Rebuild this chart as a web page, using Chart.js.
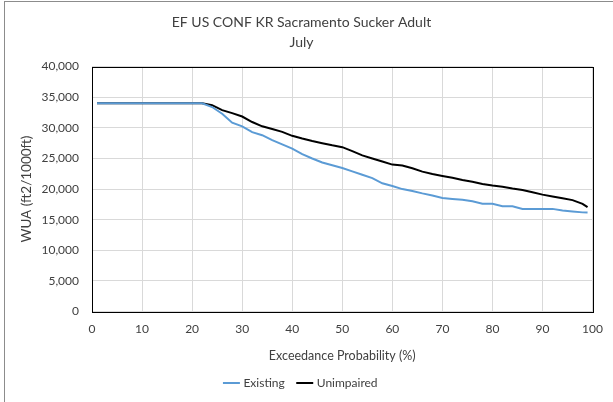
<!DOCTYPE html>
<html>
<head>
<meta charset="utf-8">
<script src="https://cdn.jsdelivr.net/npm/chart.js@4.4.0/dist/chart.umd.min.js"></script>
<style>
  body { margin: 0; background: #fff; }
  #wrap { position: relative; width: 613px; height: 402px; }
</style>
</head>
<body>
<div id="wrap"><canvas id="wuaChart" width="613" height="402"></canvas></div>
<script>
// exceedance probability (%)
var exceedance = [1, 4, 8, 12, 16, 20, 22, 24, 26, 28, 30, 32, 34, 36, 38, 40, 42, 44, 46, 48, 50,
    52, 54, 56, 58, 60, 62, 64, 66, 68, 70, 72, 74, 76, 78, 80, 82, 84, 86, 88, 90, 92, 94, 96, 98, 99];
var existing = [34000, 34000, 34000, 34000, 34000, 34000, 34000, 33400, 32300, 30850, 30250, 29300,
    28800, 28000, 27300, 26600, 25700, 25000, 24350, 23900, 23450, 22900, 22350, 21800, 20950, 20500,
    20000, 19700, 19300, 18950, 18550, 18400, 18250, 18000, 17600, 17600, 17200, 17200, 16770, 16770,
    16770, 16770, 16500, 16350, 16200, 16170];
var unimpaired = [34000, 34000, 34000, 34000, 34000, 34000, 34000, 33700, 32900, 32400, 31850, 30950,
    30250, 29800, 29350, 28700, 28250, 27850, 27500, 27150, 26850, 26200, 25500, 25000, 24500, 24000,
    23850, 23400, 22850, 22450, 22150, 21850, 21500, 21200, 20850, 20570, 20400, 20100, 19850, 19500,
    19100, 18800, 18500, 18200, 17600, 17050];
var xTicks = [0, 10, 20, 30, 40, 50, 60, 70, 80, 90, 100];
var yTicks = [0, 5000, 10000, 15000, 20000, 25000, 30000, 35000, 40000];

function toPoints(xs, ys) {
    return xs.map(function (x, i) { return { x: x, y: ys[i] }; });
}

var fontFam = "Lato, 'Open Sans', sans-serif";
Chart.defaults.font.family = fontFam;
Chart.defaults.color = '#404040';

// outer frame + plot border
var framePlugin = {
    id: 'frame',
    beforeDraw: function (chart) {
        var ctx = chart.ctx;
        ctx.save();
        ctx.fillStyle = '#fff';
        ctx.fillRect(0, 0, chart.width, chart.height);
        ctx.strokeStyle = '#8c8c8c';
        ctx.lineWidth = 1;
        ctx.strokeRect(4.5, 1.5, 700, 500);
        ctx.restore();
    },
    beforeDatasetsDraw: function (chart) {
        var a = chart.chartArea, ctx = chart.ctx;
        ctx.save();
        ctx.strokeStyle = '#000';
        ctx.lineWidth = 1;
        ctx.strokeRect(Math.round(a.left) + 0.5, Math.round(a.top) + 0.5,
            Math.round(a.right - a.left), Math.round(a.bottom - a.top));
        ctx.restore();
    }
};

new Chart(document.getElementById('wuaChart'), {
    type: 'line',
    data: {
        datasets: [
            {
                label: 'Existing',
                data: toPoints(exceedance, existing),
                borderColor: '#5b9bd5',
                backgroundColor: '#5b9bd5',
                borderWidth: 2,
                pointRadius: 0,
                tension: 0
            },
            {
                label: 'Unimpaired',
                data: toPoints(exceedance, unimpaired),
                borderColor: '#000000',
                backgroundColor: '#000000',
                borderWidth: 2,
                pointRadius: 0,
                tension: 0
            }
        ]
    },
    options: {
        responsive: false,
        animation: false,
        layout: { padding: { left: 6, right: 16, top: 12, bottom: 3 } },
        plugins: {
            title: {
                display: true,
                text: ['EF US CONF KR Sacramento Sucker Adult', 'July'],
                color: '#404040',
                font: { size: 14, weight: 'normal', family: fontFam, lineHeight: 1.45 },
                padding: { top: 0, bottom: 14 }
            },
            legend: {
                position: 'bottom',
                labels: {
                    usePointStyle: true,
                    pointStyle: 'line',
                    boxWidth: 24,
                    color: '#404040',
                    font: { size: 12, family: fontFam },
                    padding: 14
                }
            },
            tooltip: { enabled: false }
        },
        scales: {
            x: {
                type: 'linear',
                min: 0,
                max: 100,
                afterBuildTicks: function (axis) {
                    axis.ticks = xTicks.map(function (v) { return { value: v }; });
                },
                grid: { color: '#d9d9d9', drawTicks: false },
                border: { display: false },
                ticks: { color: '#404040', font: { size: 12 }, padding: 10, maxRotation: 0 },
                title: {
                    display: true,
                    text: 'Exceedance Probability (%)',
                    color: '#404040',
                    font: { size: 12.5 },
                    padding: { top: 2, bottom: 0 }
                }
            },
            y: {
                min: 0,
                max: 40000,
                afterBuildTicks: function (axis) {
                    axis.ticks = yTicks.map(function (v) { return { value: v }; });
                },
                afterFit: function (axis) { axis.width = 86; },
                grid: { color: '#d9d9d9', drawTicks: false },
                border: { display: false },
                ticks: {
                    color: '#404040',
                    font: { size: 12 },
                    padding: 13,
                    callback: function (v) { return v.toLocaleString('en-US'); }
                },
                title: {
                    display: true,
                    text: 'WUA (ft2/1000ft)',
                    color: '#404040',
                    font: { size: 13.5 },
                    padding: { top: 13, bottom: 2 }
                }
            }
        }
    },
    plugins: [framePlugin]
});
</script>
</body>
</html>
